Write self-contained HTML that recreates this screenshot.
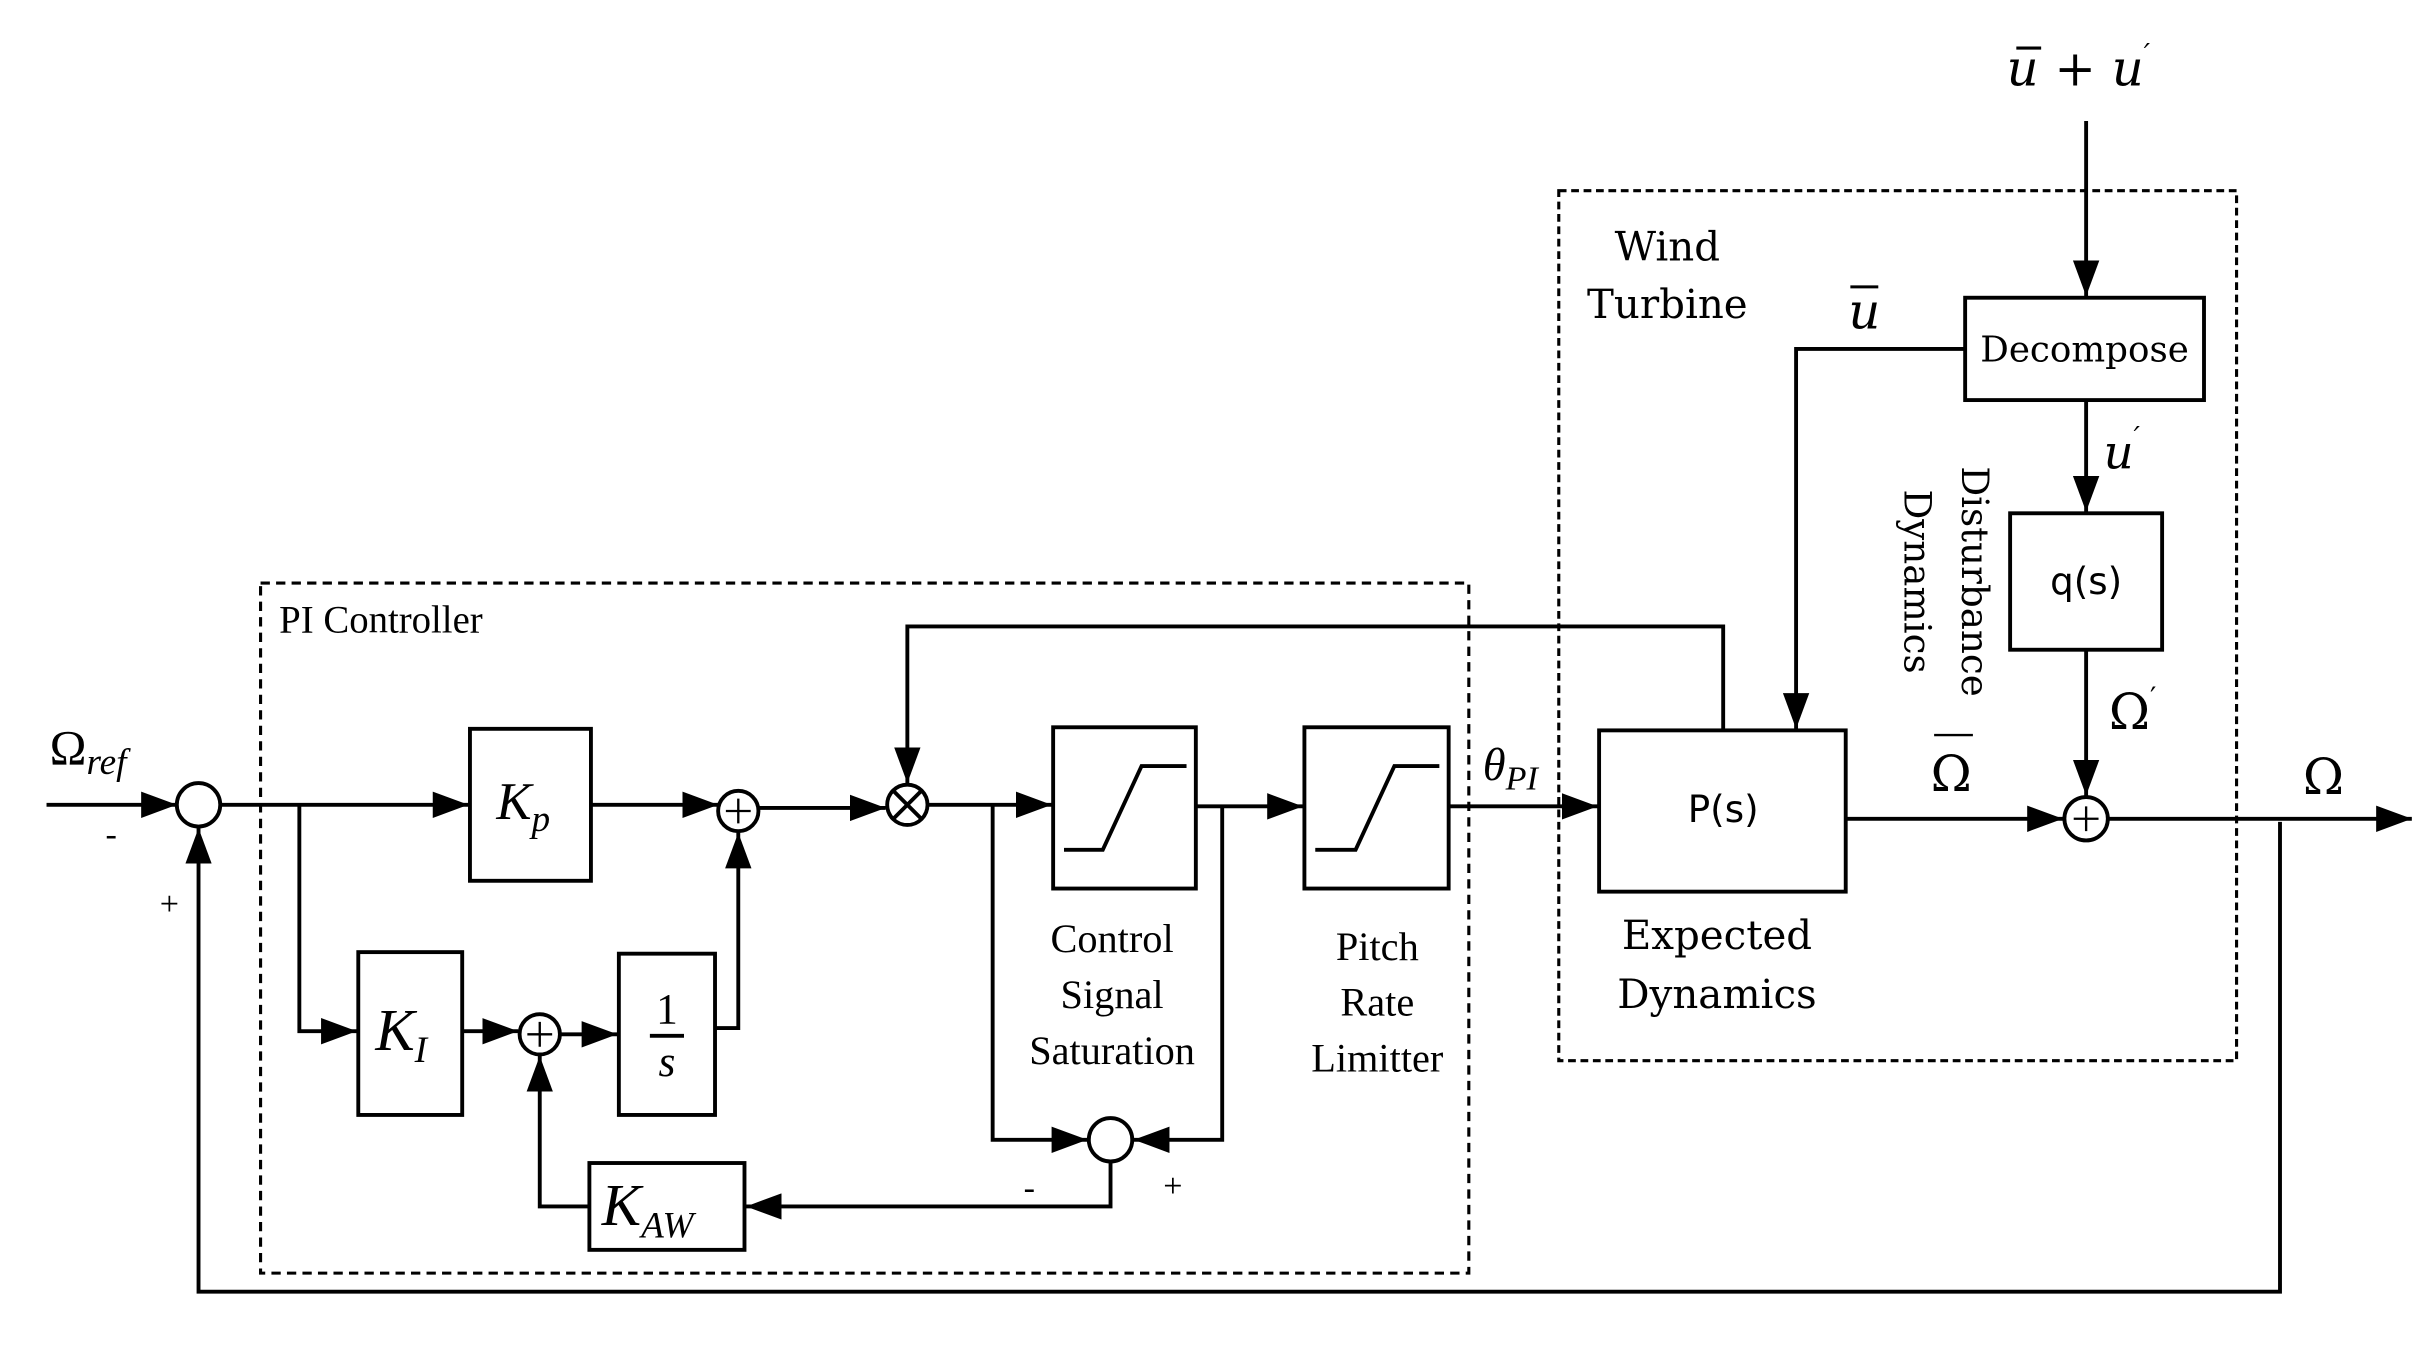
<!DOCTYPE html>
<html><head><style>html,body{margin:0;padding:0;background:#fff}svg{display:block}</style></head>
<body>
<svg width="2432" height="1346" viewBox="0 0 1568 868" preserveAspectRatio="none" xmlns="http://www.w3.org/2000/svg">
<defs>
<marker id="b" viewBox="0 0 10 10" refX="10" refY="5" markerWidth="23" markerHeight="17" orient="auto" markerUnits="userSpaceOnUse" preserveAspectRatio="none">
<path d="M0,0 L10,5 L0,10 z" fill="#000"/></marker>
</defs>
<g fill="none" stroke="#000" stroke-width="2.5">
<rect x="168" y="376" width="779" height="445" stroke-dasharray="6,4" stroke-width="2"/>
<rect x="1005" y="123" width="437" height="561" stroke-dasharray="5,3" stroke-width="2"/>
<rect x="303" y="470" width="78" height="98"/>
<rect x="231" y="614" width="67" height="105"/>
<rect x="399" y="615" width="62" height="104"/>
<rect x="380" y="750" width="100" height="56"/>
<rect x="679" y="469" width="92" height="104"/>
<rect x="841" y="469" width="93" height="104"/>
<rect x="1031" y="471" width="159" height="104"/>
<rect x="1267" y="192" width="154" height="66"/>
<rect x="1296" y="331" width="98" height="88"/>
<polyline points="686,548 711,548 736,494 765,494"/>
<polyline points="848,548 874,548 899,494 928,494"/>
<circle cx="128" cy="519" r="14"/>
<circle cx="476" cy="523" r="13"/>
<circle cx="348" cy="667" r="13"/>
<circle cx="585" cy="519" r="13"/>
<circle cx="716" cy="735" r="14"/>
<circle cx="1345" cy="528" r="14"/>
<path d="M476,515v16M468,523h16M348,659v16M340,667h16M1345,520v16M1337,528h16" stroke-width="1.5"/>
<path d="M576,510l18,18M594,510l-18,18"/>
<line x1="30" y1="519" x2="114" y2="519" marker-end="url(#b)"/>
<line x1="142" y1="519" x2="302" y2="519" marker-end="url(#b)"/>
<polyline points="193,519 193,665 230,665" marker-end="url(#b)"/>
<line x1="381" y1="519" x2="463" y2="519" marker-end="url(#b)"/>
<line x1="489" y1="521" x2="571" y2="521" marker-end="url(#b)"/>
<polyline points="1111,470 1111,404 585,404 585,505" marker-end="url(#b)"/>
<line x1="598" y1="519" x2="678" y2="519" marker-end="url(#b)"/>
<polyline points="640,519 640,735 701,735" marker-end="url(#b)"/>
<line x1="771" y1="520" x2="840" y2="520" marker-end="url(#b)"/>
<polyline points="788,520 788,735 731,735" marker-end="url(#b)"/>
<polyline points="716,749 716,778 481,778" marker-end="url(#b)"/>
<polyline points="380,778 348,778 348,681" marker-end="url(#b)"/>
<line x1="298" y1="665" x2="334" y2="665" marker-end="url(#b)"/>
<line x1="361" y1="667" x2="398" y2="667" marker-end="url(#b)"/>
<polyline points="461,663 476,663 476,537" marker-end="url(#b)"/>
<line x1="934" y1="520" x2="1030" y2="520" marker-end="url(#b)"/>
<line x1="1345" y1="78" x2="1345" y2="191" marker-end="url(#b)"/>
<polyline points="1267,225 1158,225 1158,470" marker-end="url(#b)"/>
<line x1="1345" y1="258" x2="1345" y2="330" marker-end="url(#b)"/>
<line x1="1345" y1="419" x2="1345" y2="513" marker-end="url(#b)"/>
<line x1="1190" y1="528" x2="1330" y2="528" marker-end="url(#b)"/>
<line x1="1359" y1="528" x2="1555" y2="528" marker-end="url(#b)"/>
<polyline points="1470,530 1470,833 128,833 128,534" marker-end="url(#b)"/>
</g>
<g font-family="Liberation Serif, serif" fill="#000">
<text x="180" y="408" font-size="25">PI Controller</text>
<text x="32" y="493" font-size="32">Ω<tspan font-style="italic" font-size="24" dy="6">ref</tspan></text>
<text x="68" y="545" font-size="22">-</text>
<text x="103" y="590" font-size="22">+</text>
<text x="320" y="528" font-size="34" font-style="italic">K<tspan font-size="24" dy="8">p</tspan></text>
<text x="242" y="677" font-size="38" font-style="italic">K<tspan font-size="24" dy="8">I</tspan></text>
<text x="430" y="660" font-size="28" text-anchor="middle">1</text>
<line x1="419" y1="668" x2="441" y2="668" stroke="#000" stroke-width="2.5"/>
<text x="430" y="694" font-size="28" font-style="italic" text-anchor="middle">s</text>
<text x="388" y="790" font-size="38" font-style="italic">K<tspan font-size="24" dy="8">AW</tspan></text>
<text x="660" y="773" font-size="22">-</text>
<text x="750" y="772" font-size="22">+</text>
<g font-size="26" text-anchor="middle">
<text x="717" y="614">Control</text><text x="717" y="650">Signal</text><text x="717" y="686">Saturation</text>
<text x="888" y="619">Pitch</text><text x="888" y="655">Rate</text><text x="888" y="691">Limitter</text>
</g>
<text x="956" y="503" font-size="30" font-style="italic">θ<tspan font-size="22" dy="6">PI</tspan></text>
</g>
<g font-family="DejaVu Serif, serif" fill="#000">
<text x="1075" y="168" font-size="26" text-anchor="middle">Wind</text>
<text x="1075" y="205" font-size="26" text-anchor="middle">Turbine</text>
<text x="1107" y="612" font-size="26" text-anchor="middle">Expected</text>
<text x="1107" y="650" font-size="26" text-anchor="middle">Dynamics</text>
<text x="1344" y="233" font-size="23" text-anchor="middle">Decompose</text>
<text x="1111" y="530" font-size="24" text-anchor="middle" font-family="DejaVu Sans, sans-serif">P(s)</text>
<text x="1345" y="383" font-size="24" text-anchor="middle" font-family="DejaVu Sans, sans-serif">q(s)</text>
<text transform="translate(1265,375) rotate(90)" font-size="24" text-anchor="middle">Disturbance</text>
<text transform="translate(1228,375) rotate(90)" font-size="24" text-anchor="middle">Dynamics</text>
<text x="1340" y="55" font-size="32" font-style="italic" text-anchor="middle">u + u<tspan font-size="18" dy="-14">′</tspan></text>
<line x1="1300" y1="31" x2="1316" y2="31" stroke="#000" stroke-width="2"/>
<text x="1202" y="212" font-size="32" font-style="italic" text-anchor="middle">u</text>
<line x1="1193" y1="185" x2="1211" y2="185" stroke="#000" stroke-width="2"/>
<text x="1368" y="302" font-size="30" font-style="italic" text-anchor="middle">u<tspan font-size="18" dy="-14">′</tspan></text>
<text x="1375" y="470" font-size="32" text-anchor="middle">Ω<tspan font-size="18" dy="-14">′</tspan></text>
<text x="1258" y="510" font-size="32" text-anchor="middle">Ω</text>
<line x1="1247" y1="474" x2="1272" y2="474" stroke="#000" stroke-width="1.5"/>
<text x="1498" y="512" font-size="32" text-anchor="middle">Ω</text>
</g>
</svg>
</body></html>
